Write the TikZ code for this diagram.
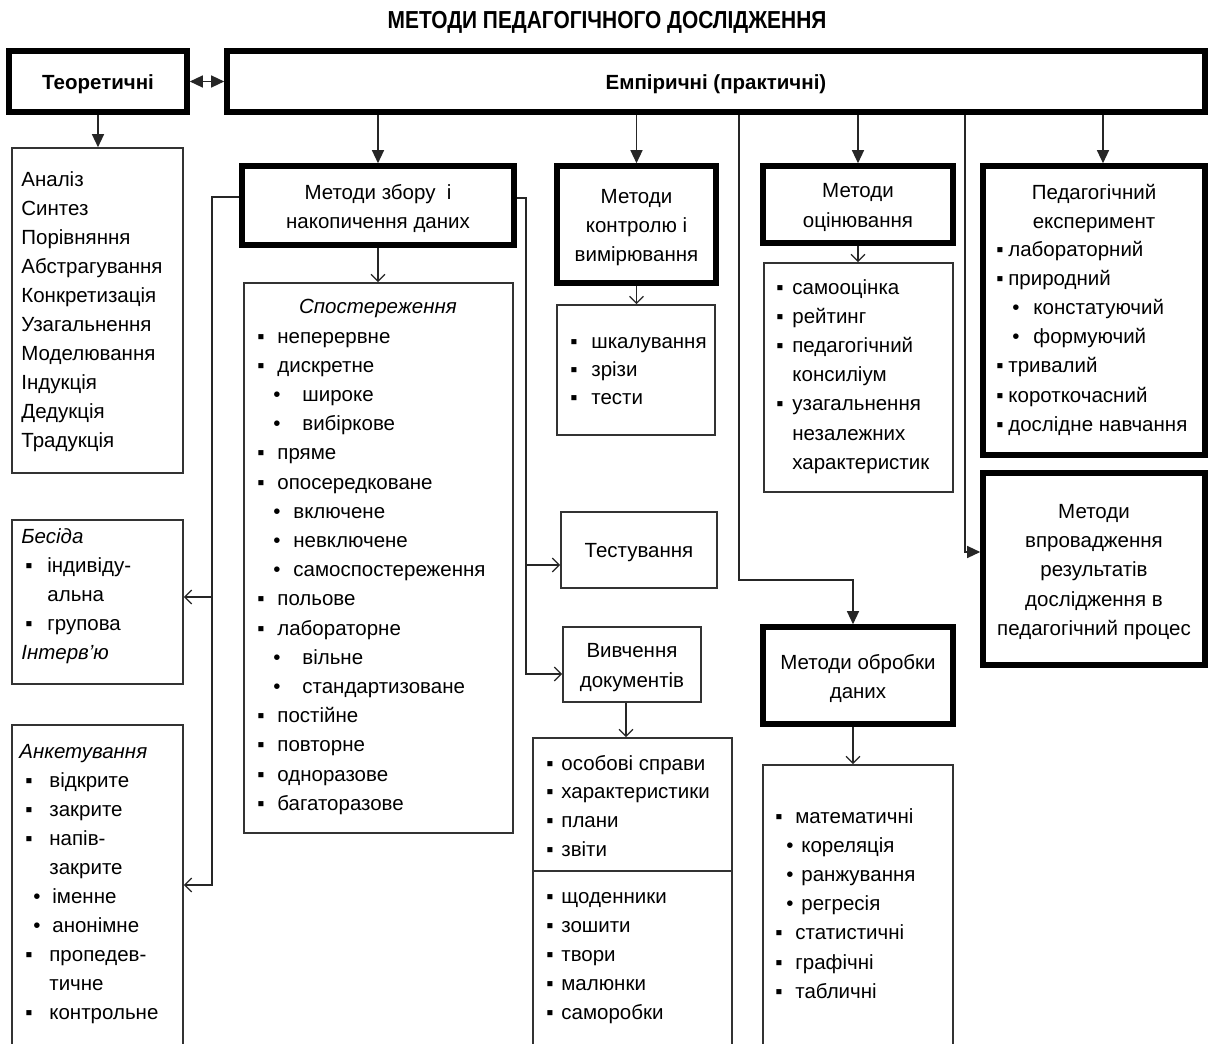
\documentclass[tikz,border=0pt]{standalone}
\usepackage{fontspec}
\setmainfont{Liberation Sans}
\usepackage{graphicx}
\usetikzlibrary{arrows.meta,positioning,fit,calc}
\newdimen\px \px=0.5pt
\tikzset{
  lst/.style  ={draw=black!80,line width=0.8pt,inner sep=0pt,fill=white},
  thk/.style  ={draw=black,line width=2.8pt,inner sep=0pt,fill=white},
  txt/.style  ={inner sep=0pt,align=center,yshift=-1.5pt},
  itm/.style  ={anchor=base west,inner sep=0pt},
  hd/.style   ={anchor=base,inner sep=0pt},
  ln/.style   ={draw=black!85,line width=0.65pt},
  farr/.style ={ln,-{Triangle[length=6.5pt,width=6pt]}},
  oarr/.style ={ln,-{Straight Barb[length=3.5pt,width=7pt]}},
  dbl/.style  ={ln,{Triangle[length=6.5pt,width=6pt]}-{Triangle[length=6.5pt,width=6pt]}},
}

\begin{document}
\fontsize{10.25}{14.6}\selectfont
\begin{tikzpicture}[x=0.5pt,y=-0.5pt]
\useasboundingbox (0,0) rectangle (1211,1044);
\fill[white] (0,0) rectangle (1211,1044);
\clip (0,0) rectangle (1211,1044);

\node[inner sep=0pt] (title) at (607,22)
  {\scalebox{0.85}[1]{\fontsize{12.3}{14}\selectfont\bfseries МЕТОДИ ПЕДАГОГІЧНОГО ДОСЛІДЖЕННЯ}};

% top row
\node[thk, fit={(9,51) (187,112)}] (teor) {};
\node[txt] (teor-t) at (teor.center) {\bfseries Теоретичні};
\node[thk, fit={(227,51) (1205,112)}] (emp) {};
\node[txt] (emp-t) at (emp.center) {\bfseries Емпіричні (практичні)};
\draw[dbl] (teor) -- (emp);

% theoretical methods
\node[lst, fit={(12,148) (183,473)}] (anal) {};
\draw[farr] (teor.south) -- (teor.south |- anal.north);
\foreach \t [count=\i from 0] in {Аналіз,Синтез,Порівняння,Абстрагування,Конкретизація,
    Узагальнення,Моделювання,Індукція,Дедукція,Традукція}
  \node[itm] (anal\i) at (21,186+29.1*\i) {\t};

% data collection
\node[thk, fit={(242,166) (514,245)}] (zbir) {};
\node[txt] (zbir-t) at (zbir.center) {Методи збору~ і\\накопичення даних};
\node[lst, fit={(244,283) (513,833)}] (spost) {};
\node[hd] (spost-h) at (378,313) {\itshape Спостереження};
\foreach \b/\g/\x/\t [count=\i from 0] in {
    ▪/20/277/неперервне, ▪/20/277/дискретне, •/29/302/широке, •/29/302/вибіркове,
    ▪/20/277/пряме, ▪/20/277/опосередковане, •/20/293/включене, •/20/293/невключене,
    •/20/293/самоспостереження, ▪/20/277/польове, ▪/20/277/лабораторне,
    •/29/302/вільне, •/29/302/стандартизоване, ▪/20/277/постійне, ▪/20/277/повторне,
    ▪/20/277/одноразове, ▪/20/277/багаторазове}
  \node[itm] (sp\i) at (\x,343+29.2*\i) {\llap{\makebox[\g\px][l]{\b}}\t};

\node[lst, fit={(12,520) (183,684)}] (besida) {};
\foreach \b/\g/\x/\t [count=\i from 0] in {
    /0/21/\textit{Бесіда}, ▪/22/47/індивіду-, /0/47/альна, ▪/22/47/групова,
    /0/21/\textit{Інтерв'ю}}
  \node[itm] (bs\i) at (\x,543+29.2*\i) {\llap{\makebox[\g\px][l]{\b}}\t};

\node[lst, fit={(12,725) (183,1060)}] (anket) {};
\foreach \b/\g/\x/\t [count=\i from 0] in {
    /0/19/\textit{Анкетування}, ▪/24/49/відкрите, ▪/24/49/закрите, ▪/24/49/напів-,
    /0/49/закрите, •/19/52/іменне, •/19/52/анонімне, ▪/24/49/пропедев-,
    /0/49/тичне, ▪/24/49/контрольне}
  \node[itm] (an\i) at (\x,758+29*\i) {\llap{\makebox[\g\px][l]{\b}}\t};

\node[lst, fit={(561,512) (717,588)}] (test) {};
\node[txt] (test-t) at (test.center) {Тестування};
\node[lst, fit={(563,627) (701,702)}] (vyv) {};
\node[txt] (vyv-t) at (vyv.center) {Вивчення\\документів};
\node[lst, fit={(533,738) (732,871)}] (docsA) {};
\node[lst, fit={(533,871) (732,1060)}] (docsB) {};
\foreach \t [count=\i from 0] in {особові справи,характеристики,плани,звіти}
  \node[itm] (da\i) at (561,770+28.7*\i) {\llap{\makebox[15\px][l]{▪}}\t};
\foreach \t [count=\i from 0] in {щоденники,зошити,твори,малюнки,саморобки}
  \node[itm] (db\i) at (561,903+29.2*\i) {\llap{\makebox[15\px][l]{▪}}\t};

% control and measurement
\node[thk, fit={(557,166) (716,283)}] (kontr) {};
\node[txt] (kontr-t) at (kontr.center) {Методи\\контролю і\\вимірювання};
\node[lst, fit={(557,305) (715,435)}] (shkal) {};
\foreach \t [count=\i from 0] in {шкалування,зрізи,тести}
  \node[itm] (sk\i) at (591,348+28*\i) {\llap{\makebox[21\px][l]{▪}}\t};

% evaluation
\node[thk, fit={(763,166) (953,243)}] (ocin) {};
\node[txt] (ocin-t) at (ocin.center) {Методи\\оцінювання};
\node[lst, fit={(764,263) (953,492)}] (samoc) {};
\foreach \b/\g/\t [count=\i from 0] in {
    ▪/16/самооцінка, ▪/16/рейтинг, ▪/16/педагогічний, /0/консиліум,
    ▪/16/узагальнення, /0/незалежних, /0/характеристик}
  \node[itm] (so\i) at (792,294+29.2*\i) {\llap{\makebox[\g\px][l]{\b}}\t};

% data processing
\node[thk, fit={(763,627) (953,724)}] (obr) {};
\node[txt] (obr-t) at (obr.center) {Методи обробки\\даних};
\node[lst, fit={(763,765) (953,1060)}] (matem) {};
\foreach \b/\g/\x/\t [count=\i from 0] in {
    ▪/20/795/математичні, •/15/801/кореляція, •/15/801/ранжування, •/15/801/регресія,
    ▪/20/795/статистичні, ▪/20/795/графічні, ▪/20/795/табличні}
  \node[itm] (ma\i) at (\x,823+29.2*\i) {\llap{\makebox[\g\px][l]{\b}}\t};

% experiment and implementation
\node[thk, fit={(983,166) (1205,455)}] (ped) {};
\node[hd] (ped-h1) at (1094,199) {Педагогічний};
\node[hd] (ped-h2) at (1094,228) {експеримент};
\foreach \b/\g/\x/\t [count=\i from 0] in {
    ▪/12/1008/лабораторний, ▪/12/1008/природний, •/21/1033/констатуючий,
    •/21/1033/формуючий, ▪/12/1008/тривалий, ▪/12/1008/короткочасний,
    ▪/12/1008/дослідне навчання}
  \node[itm] (pe\i) at (\x,256+29.2*\i) {\llap{\makebox[\g\px][l]{\b}}\t};
\node[thk, fit={(983,473) (1205,665)}] (vpr) {};
\node[txt] (vpr-t) at (vpr.center)
  {Методи\\впровадження\\результатів\\дослідження в\\педагогічний процес};

% connectors from the empirical box
\coordinate (pedin) at ($(ped.north)+(9,0)$);
\coordinate (obrin) at ($(obr.north)+(-5,0)$);
\coordinate (vprin) at ($(vpr.west)+(0,-17)$);
\coordinate (k1) at (739,580);
\coordinate (k2) at (965,552);
\draw[farr] (emp.south -| zbir.north) -- (zbir.north);
\draw[farr] (emp.south -| kontr.north) -- (kontr.north);
\draw[farr] (emp.south -| ocin.north) -- (ocin.north);
\draw[farr] (emp.south -| pedin) -- (pedin);
\draw[farr] (emp.south -| k1) -- (k1) -| (obrin);
\draw[farr] (emp.south -| k2) -- (k2) -- (vprin);

% connectors below the second row
\draw[oarr] (zbir.south) -- (zbir.south |- spost.north);
\draw[oarr] (kontr.south) -- (kontr.south |- shkal.north);
\draw[oarr] (ocin.south) -- (ocin.south |- samoc.north);
\coordinate (vyvout) at ($(vyv.south)+(-6,0)$);
\coordinate (obrout) at ($(obr.south)+(-5,0)$);
\draw[oarr] (vyvout) -- (vyvout |- docsA.north);
\draw[oarr] (obrout) -- (obrout |- matem.north);

% brackets on both sides of the data collection box
\coordinate (lb1) at (212,197);
\coordinate (lb2) at (212,597);
\coordinate (lb3) at (212,885);
\draw[oarr] (zbir.west |- lb1) -- (lb1) -- (lb3) -- (anket.east |- lb3);
\draw[oarr] (lb2) -- (besida.east |- lb2);
\coordinate (rb1) at (526,198);
\coordinate (rb2) at (526,565);
\coordinate (rb3) at (526,674);
\draw[oarr] (zbir.east |- rb1) -- (rb1) -- (rb3) -- (vyv.west |- rb3);
\draw[oarr] (rb2) -- (test.west |- rb2);
\end{tikzpicture}
\end{document}
